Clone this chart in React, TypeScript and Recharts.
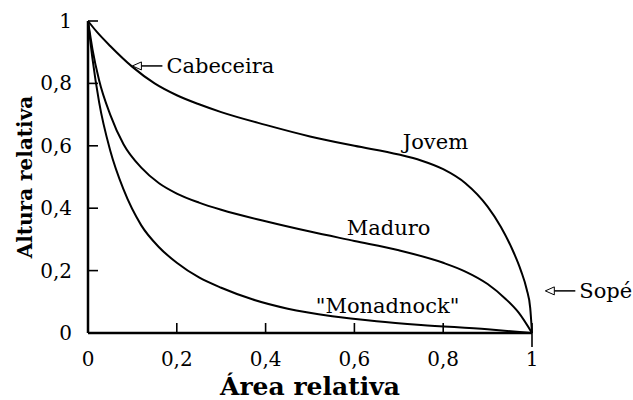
import React from "react";
import { LineChart, Line, XAxis, YAxis, ReferenceDot } from "recharts";

// curves (relative area vs relative height)
const jovem = [
  { x: 0, y: 1 }, { x: 0.02, y: 0.965 }, { x: 0.05, y: 0.92 }, { x: 0.1, y: 0.853 },
  { x: 0.15, y: 0.8 }, { x: 0.2, y: 0.762 }, { x: 0.25, y: 0.733 }, { x: 0.3, y: 0.708 },
  { x: 0.4, y: 0.667 }, { x: 0.5, y: 0.63 }, { x: 0.6, y: 0.6 }, { x: 0.7, y: 0.572 },
  { x: 0.75, y: 0.553 }, { x: 0.8, y: 0.525 }, { x: 0.85, y: 0.48 }, { x: 0.9, y: 0.405 },
  { x: 0.93, y: 0.34 }, { x: 0.955, y: 0.27 }, { x: 0.975, y: 0.2 }, { x: 0.988, y: 0.14 },
  { x: 0.996, y: 0.08 }, { x: 1, y: 0 },
];
const maduro = [
  { x: 0, y: 1 }, { x: 0.01, y: 0.91 }, { x: 0.025, y: 0.81 }, { x: 0.05, y: 0.7 },
  { x: 0.08, y: 0.605 }, { x: 0.12, y: 0.53 }, { x: 0.16, y: 0.48 }, { x: 0.2, y: 0.447 },
  { x: 0.25, y: 0.418 }, { x: 0.3, y: 0.395 }, { x: 0.4, y: 0.358 }, { x: 0.5, y: 0.325 },
  { x: 0.6, y: 0.295 }, { x: 0.7, y: 0.265 }, { x: 0.8, y: 0.225 }, { x: 0.85, y: 0.197 },
  { x: 0.9, y: 0.157 }, { x: 0.94, y: 0.11 }, { x: 0.97, y: 0.065 }, { x: 1, y: 0 },
];
const monadnock = [
  { x: 0, y: 1 }, { x: 0.01, y: 0.88 }, { x: 0.025, y: 0.74 }, { x: 0.05, y: 0.585 },
  { x: 0.08, y: 0.46 }, { x: 0.12, y: 0.345 }, { x: 0.16, y: 0.275 }, { x: 0.2, y: 0.225 },
  { x: 0.25, y: 0.178 }, { x: 0.3, y: 0.145 }, { x: 0.37, y: 0.108 }, { x: 0.45, y: 0.078 },
  { x: 0.55, y: 0.054 }, { x: 0.65, y: 0.038 }, { x: 0.75, y: 0.026 }, { x: 0.9, y: 0.012 },
  { x: 1, y: 0 },
];

const xTicks = [0, 0.2, 0.4, 0.6, 0.8, 1];
const yTicks = [0, 0.2, 0.4, 0.6, 0.8, 1];

const curveLabels = [
  { text: "Jovem", x: 0.709, y: 0.612 },
  { text: "Maduro", x: 0.583, y: 0.337 },
  { text: "\"Monadnock\"", x: 0.513, y: 0.088 },
];
const arrowLabels = [
  { text: "Cabeceira", x: 0.1, y: 0.856 },
  { text: "Sopé", x: 1.03, y: 0.135 },
];

const FONT = "'DejaVu Serif', serif";
const fmt = (v: number) => String(v).replace(".", ",");

function XTick(props: any) {
  const { x, y, payload } = props;
  // the last tick also pokes below the axis in the original
  const below = payload.value === 1 ? 14 : 0;
  return (
    <g>
      <line x1={x} x2={x} y1={y + below} y2={y - 10} stroke="#000" strokeWidth={1.6} />
      <text x={x} y={y + 26} textAnchor="middle" dominantBaseline="central"
        fontFamily={FONT} fontSize={20} fill="#000">{fmt(payload.value)}</text>
    </g>
  );
}

function YTick(props: any) {
  const { x, y, payload } = props;
  return (
    <g>
      <line x1={x} x2={x + 10} y1={y} y2={y} stroke="#000" strokeWidth={1.6} />
      <text x={x - 16} y={y} textAnchor="end" dominantBaseline="central"
        fontFamily={FONT} fontSize={20} fill="#000">{fmt(payload.value)}</text>
    </g>
  );
}

export default function App() {
  return (
    <div style={{ position: "absolute", left: 0, top: 0, width: 633, height: 400, background: "#fff" }}>
      <LineChart width={633} height={400} margin={{ top: 21, right: 101, bottom: 37, left: 28 }}>
        <XAxis
          type="number" dataKey="x" domain={[0, 1]} ticks={xTicks}
          tickSize={0} tickMargin={0} tick={(p: any) => <XTick {...p} />}
          axisLine={{ stroke: "#000", strokeWidth: 2.5 }} height={30}
          label={(p: any) => (
            <text x={p.viewBox.x + p.viewBox.width / 2} y={395} textAnchor="middle"
              fontFamily={FONT} fontWeight="bold" fontSize={25} fill="#000">Área relativa</text>
          )}
        />
        <YAxis
          type="number" domain={[0, 1]} ticks={yTicks} width={60}
          tickSize={0} tickMargin={0} tick={(p: any) => <YTick {...p} />}
          axisLine={{ stroke: "#000", strokeWidth: 2.5 }}
          label={(p: any) => {
            const cy = p.viewBox.y + p.viewBox.height / 2;
            return (
              <text x={25} y={cy} textAnchor="middle" dominantBaseline="central"
                transform={`rotate(-90, 25, ${cy})`}
                fontFamily={FONT} fontWeight="bold" fontSize={20} fill="#000">Altura relativa</text>
            );
          }}
        />
        <Line data={jovem} dataKey="y" type="monotone" stroke="#000" strokeWidth={2} dot={false} isAnimationActive={false} />
        <Line data={maduro} dataKey="y" type="monotone" stroke="#000" strokeWidth={2} dot={false} isAnimationActive={false} />
        <Line data={monadnock} dataKey="y" type="monotone" stroke="#000" strokeWidth={2} dot={false} isAnimationActive={false} />
        {curveLabels.map((l) => (
          <ReferenceDot key={l.text} x={l.x} y={l.y} r={0} ifOverflow="visible"
            shape={(p: any) => (
              <text x={p.cx} y={p.cy} dominantBaseline="central" fontFamily={FONT} fontSize={21} fill="#000">{l.text}</text>
            )}
          />
        ))}
        {arrowLabels.map((l) => (
          <ReferenceDot key={l.text} x={l.x} y={l.y} r={0} ifOverflow="visible"
            shape={(p: any) => (
              <g>
                <line x1={p.cx + 8} x2={p.cx + 30} y1={p.cy} y2={p.cy} stroke="#000" strokeWidth={1.5} />
                <path d={`M${p.cx},${p.cy} L${p.cx + 9},${p.cy - 4} L${p.cx + 9},${p.cy + 4} Z`}
                  fill="#fff" stroke="#000" strokeWidth={1} />
                <text x={p.cx + 34} y={p.cy} dominantBaseline="central" fontFamily={FONT} fontSize={21} fill="#000">{l.text}</text>
              </g>
            )}
          />
        ))}
      </LineChart>
    </div>
  );
}
